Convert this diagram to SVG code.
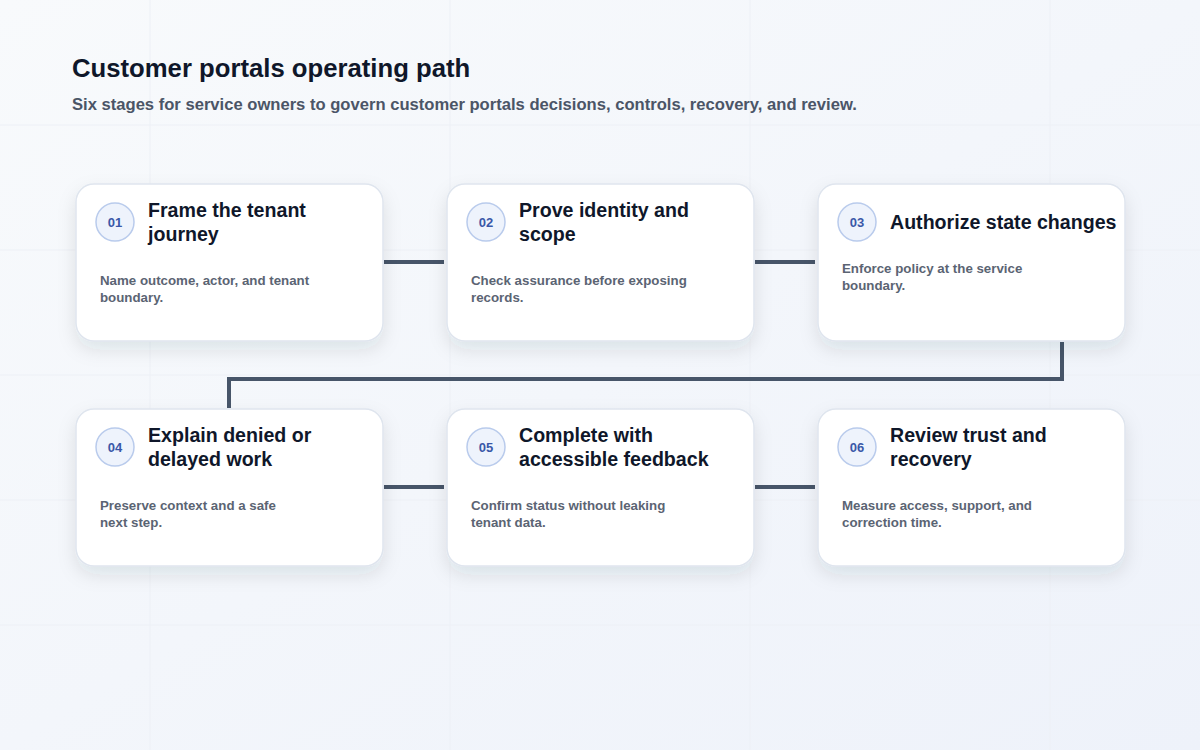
<svg xmlns="http://www.w3.org/2000/svg" width="1200" height="750" viewBox="0 0 1200 750">
<defs>
<linearGradient id="bg" x1="0" y1="0" x2="1" y2="1"><stop offset="0" stop-color="#f8fafc"/><stop offset="1" stop-color="#eef2fa"/></linearGradient>
<filter id="sh" x="-20%" y="-20%" width="140%" height="150%"><feDropShadow dx="0" dy="8" stdDeviation="9" flood-color="#1e293b" flood-opacity="0.10"/></filter>
<style>
.card{fill:#fff;stroke:#dfe5ee;stroke-width:1.5;filter:url(#sh)}
.badge{fill:#eef3fc;stroke:#b9cbec;stroke-width:1.5}
.num{font:700 13px "Liberation Sans",Arial,sans-serif;fill:#3a58a8;text-anchor:middle}
.t{font:700 19.6px "Liberation Sans",Arial,sans-serif;fill:#0f172a}
.b{font:700 13.3px "Liberation Sans",Arial,sans-serif;fill:#5b6473}
.c{fill:none;stroke:#475569;stroke-width:4}
.g{stroke:#edf0f6;stroke-width:1}
</style>
</defs>
<rect width="1200" height="750" fill="url(#bg)"/>
<g class="g">
<line x1="150" y1="0" x2="150" y2="750"/><line x1="450" y1="0" x2="450" y2="750"/><line x1="750" y1="0" x2="750" y2="750"/><line x1="1050" y1="0" x2="1050" y2="750"/>
<line x1="0" y1="125" x2="1200" y2="125"/><line x1="0" y1="250" x2="1200" y2="250"/><line x1="0" y1="375" x2="1200" y2="375"/><line x1="0" y1="500" x2="1200" y2="500"/><line x1="0" y1="625" x2="1200" y2="625"/>
</g>
<text x="72" y="77" style="font:700 25.7px 'Liberation Sans',Arial,sans-serif;fill:#0f172a">Customer portals operating path</text>
<text x="72" y="110" style="font:700 16.6px 'Liberation Sans',Arial,sans-serif;fill:#4b5567">Six stages for service owners to govern customer portals decisions, controls, recovery, and review.</text>
<g id="connectors">
<line class="c" x1="384" y1="262" x2="444" y2="262"/>
<line class="c" x1="755" y1="262" x2="815" y2="262"/>
<polyline class="c" points="1062,342 1062,379 229,379 229,408"/>
<line class="c" x1="384" y1="487" x2="444" y2="487"/>
<line class="c" x1="755" y1="487" x2="815" y2="487"/>
</g>
<g id="n1"><rect class="card" x="76" y="184" width="307" height="157" rx="18"/><circle class="badge" cx="115" cy="222" r="19"/><text class="num" x="115" y="227">01</text><text class="t" x="148" y="217">Frame the tenant</text><text class="t" x="148" y="241">journey</text><text class="b" x="100" y="285">Name outcome, actor, and tenant</text><text class="b" x="100" y="302">boundary.</text></g>
<g id="n2"><rect class="card" x="447" y="184" width="307" height="157" rx="18"/><circle class="badge" cx="486" cy="222" r="19"/><text class="num" x="486" y="227">02</text><text class="t" x="519" y="217">Prove identity and</text><text class="t" x="519" y="241">scope</text><text class="b" x="471" y="285">Check assurance before exposing</text><text class="b" x="471" y="302">records.</text></g>
<g id="n3"><rect class="card" x="818" y="184" width="307" height="157" rx="18"/><circle class="badge" cx="857" cy="222" r="19"/><text class="num" x="857" y="227">03</text><text class="t" x="890" y="229">Authorize state changes</text><text class="b" x="842" y="273">Enforce policy at the service</text><text class="b" x="842" y="290">boundary.</text></g>
<g id="n4"><rect class="card" x="76" y="409" width="307" height="157" rx="18"/><circle class="badge" cx="115" cy="447" r="19"/><text class="num" x="115" y="452">04</text><text class="t" x="148" y="442">Explain denied or</text><text class="t" x="148" y="466">delayed work</text><text class="b" x="100" y="510">Preserve context and a safe</text><text class="b" x="100" y="527">next step.</text></g>
<g id="n5"><rect class="card" x="447" y="409" width="307" height="157" rx="18"/><circle class="badge" cx="486" cy="447" r="19"/><text class="num" x="486" y="452">05</text><text class="t" x="519" y="442">Complete with</text><text class="t" x="519" y="466">accessible feedback</text><text class="b" x="471" y="510">Confirm status without leaking</text><text class="b" x="471" y="527">tenant data.</text></g>
<g id="n6"><rect class="card" x="818" y="409" width="307" height="157" rx="18"/><circle class="badge" cx="857" cy="447" r="19"/><text class="num" x="857" y="452">06</text><text class="t" x="890" y="442">Review trust and</text><text class="t" x="890" y="466">recovery</text><text class="b" x="842" y="510">Measure access, support, and</text><text class="b" x="842" y="527">correction time.</text></g>
</svg>
